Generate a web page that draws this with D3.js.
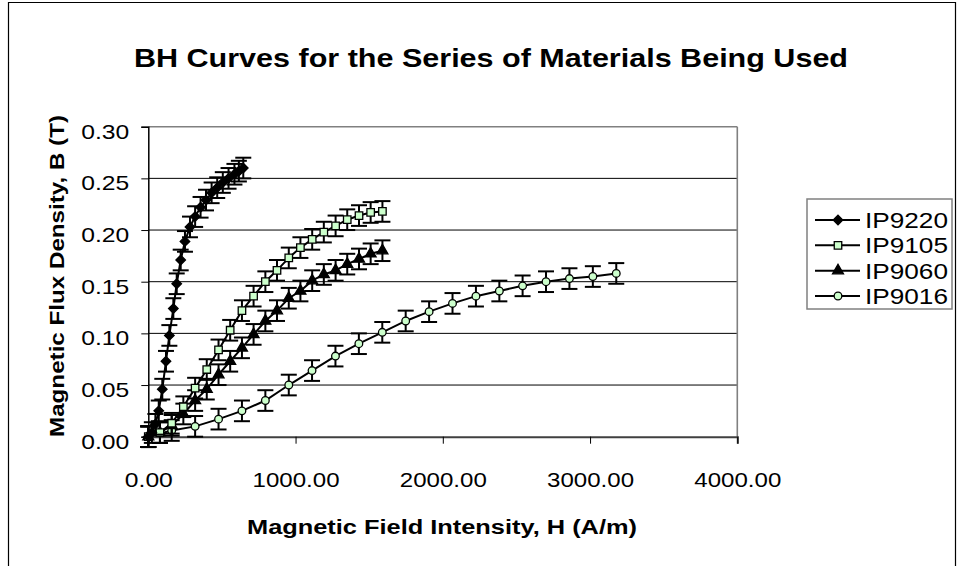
<!DOCTYPE html>
<html>
<head>
<meta charset="utf-8">
<script src="https://cdn.jsdelivr.net/npm/d3@7"></script>
<style>
  body { margin: 0; background: #fff; }
  svg { display: block; }
  text { font-family: "Liberation Sans", Arial, sans-serif; fill: #000; }
</style>
</head>
<body>
<svg id="chart" width="957" height="566"></svg>
<script>
// ---- data: applied field H (A/m) and flux density B (T) per material ----
const seriesNames = ["IP9220", "IP9105", "IP9060", "IP9016"];

const hIP9220 = [0, 24, 48, 71, 95, 120, 143, 170, 193, 220, 249, 283, 318, 355, 392, 430, 468, 506, 545, 585, 615, 645];
const bIP9220 = [0, 0.004, 0.012, 0.025, 0.046, 0.073, 0.098, 0.124, 0.148, 0.171, 0.189, 0.203, 0.213, 0.222, 0.229, 0.236, 0.241, 0.246, 0.250, 0.254, 0.257, 0.260];

const hIP9105 = [0, 79, 159, 238, 318, 397, 477, 556, 636, 715, 795, 874, 954, 1033, 1113, 1192, 1272, 1351, 1431, 1510, 1590];
const bIP9105 = [0, 0.004, 0.013, 0.029, 0.047, 0.065, 0.084, 0.103, 0.122, 0.136, 0.150, 0.161, 0.173, 0.183, 0.191, 0.198, 0.204, 0.210, 0.214, 0.217, 0.218];

const hIP9060 = [0, 79, 159, 238, 318, 397, 477, 556, 636, 715, 795, 874, 954, 1033, 1113, 1192, 1272, 1351, 1431, 1510, 1590];
const bIP9060 = [0, 0.004, 0.011, 0.022, 0.035, 0.046, 0.060, 0.073, 0.086, 0.099, 0.112, 0.122, 0.134, 0.141, 0.151, 0.157, 0.161, 0.167, 0.172, 0.177, 0.180];

const hIP9016 = [0, 159, 318, 477, 636, 795, 954, 1112, 1271, 1430, 1589, 1748, 1907, 2066, 2225, 2384, 2542, 2701, 2860, 3019, 3178];
const bIP9016 = [0, 0.006, 0.010, 0.017, 0.025, 0.035, 0.050, 0.064, 0.078, 0.090, 0.101, 0.112, 0.121, 0.129, 0.136, 0.141, 0.146, 0.150, 0.153, 0.155, 0.158];

// measurement uncertainty on B (T), one value per material
const errB = [0.01, 0.01, 0.01, 0.01];

const xTicks = [0, 1000, 2000, 3000, 4000];
const yTicks = [0, 0.05, 0.10, 0.15, 0.20, 0.25, 0.30];

const titleText = "BH Curves for the Series of Materials Being Used";
const xTitle = "Magnetic Field Intensity, H (A/m)";
const yTitle = "Magnetic Flux Density, B (T)";

// ---- layout ----
const svg = d3.select("#chart");
const plot = { left: 148.3, right: 737.3, top: 126.7, bottom: 436.7 };

const x = d3.scaleLinear().domain([0, 4000]).range([plot.left, plot.right]);
const y = d3.scaleLinear().domain([0, 0.30]).range([plot.bottom, plot.top]);

const hData = [hIP9220, hIP9105, hIP9060, hIP9016];
const bData = [bIP9220, bIP9105, bIP9060, bIP9016];
const series = seriesNames.map((name, i) => ({
  name,
  err: errB[i],
  points: hData[i].map((h, j) => ({ h, b: bData[i][j] }))
}));

const markerFill = { IP9220: "#000", IP9105: "#ccffcc", IP9060: "#000", IP9016: "#ccffcc" };
const markerShape = {
  IP9220: d3.symbol().type(d3.symbolDiamond2).size(58),
  IP9105: d3.symbol().type(d3.symbolSquare).size(56),
  IP9060: d3.symbol().type(d3.symbolTriangle).size(52),
  IP9016: d3.symbol().type(d3.symbolCircle).size(46)
};

// outer chart frame
svg.append("path")
  .attr("d", "M8.5,566 V2.5 H955.5 V566")
  .attr("fill", "none").attr("stroke", "#000").attr("stroke-width", 1.2);

// title
svg.append("text")
  .attr("x", 491).attr("y", 67)
  .attr("text-anchor", "middle")
  .attr("font-size", 25).attr("font-weight", "bold")
  .attr("textLength", 714).attr("lengthAdjust", "spacingAndGlyphs")
  .text(titleText);

// horizontal gridlines
svg.append("g").selectAll("line")
  .data(yTicks.filter(t => t > 0))
  .join("line")
  .attr("x1", plot.left).attr("x2", plot.right)
  .attr("y1", d => y(d)).attr("y2", d => y(d))
  .attr("stroke", d => d === 0.30 ? "#808080" : "#000")
  .attr("stroke-width", d => d === 0.30 ? 1.6 : 1);

// plot area right edge
svg.append("line")
  .attr("x1", plot.right).attr("x2", plot.right)
  .attr("y1", plot.top).attr("y2", plot.bottom)
  .attr("stroke", "#808080").attr("stroke-width", 1.6);

// y axis
const yAxis = svg.append("g")
  .attr("transform", `translate(${plot.left},0)`)
  .call(d3.axisLeft(y).tickValues(yTicks).tickFormat(d3.format(".2f")).tickSize(7).tickPadding(12));
yAxis.select(".domain").attr("stroke", "#000").attr("stroke-width", 1.5);
yAxis.selectAll(".tick line").attr("stroke", "#000").attr("stroke-width", 1);
yAxis.selectAll(".tick text")
  .attr("font-size", 21).attr("font-family", null)
  .attr("dy", "0.55em")
  .attr("textLength", 48).attr("lengthAdjust", "spacingAndGlyphs");

// x axis
const xAxis = svg.append("g")
  .attr("transform", `translate(0,${plot.bottom})`)
  .call(d3.axisBottom(x).tickValues(xTicks).tickFormat(d3.format(".2f")).tickSize(7).tickPadding(28));
xAxis.select(".domain").attr("stroke", "#404040").attr("stroke-width", 2);
xAxis.selectAll(".tick line").attr("stroke", "#000").attr("stroke-width", 1);
xAxis.selectAll(".tick text")
  .attr("font-size", 21).attr("font-family", null)
  .attr("textLength", d => d === 0 ? 48 : 87)
  .attr("lengthAdjust", "spacingAndGlyphs");

// axis titles
svg.append("text")
  .attr("x", 442).attr("y", 534)
  .attr("text-anchor", "middle")
  .attr("font-size", 20).attr("font-weight", "bold")
  .attr("textLength", 390).attr("lengthAdjust", "spacingAndGlyphs")
  .text(xTitle);

svg.append("text")
  .attr("transform", "translate(64,276) rotate(-90)")
  .attr("text-anchor", "middle")
  .attr("font-size", 20).attr("font-weight", "bold")
  .attr("textLength", 322).attr("lengthAdjust", "spacingAndGlyphs")
  .text(yTitle);

// series: connecting line, error bars, markers
const line = d3.line().x(d => x(d.h)).y(d => y(d.b));
const capHalf = 8;

const gSeries = svg.append("g").selectAll("g")
  .data(series.slice().reverse())
  .join("g");

gSeries.append("path")
  .attr("d", s => line(s.points))
  .attr("fill", "none").attr("stroke", "#000").attr("stroke-width", 2);

gSeries.each(function (s) {
  const g = d3.select(this);
  const eb = g.append("g").selectAll("g").data(s.points).join("g")
    .attr("stroke", "#000").attr("stroke-width", 2);
  eb.append("line")
    .attr("x1", d => x(d.h)).attr("x2", d => x(d.h))
    .attr("y1", d => y(d.b - s.err)).attr("y2", d => y(d.b + s.err));
  eb.append("line")
    .attr("x1", d => x(d.h) - capHalf).attr("x2", d => x(d.h) + capHalf)
    .attr("y1", d => y(d.b + s.err)).attr("y2", d => y(d.b + s.err));
  eb.append("line")
    .attr("x1", d => x(d.h) - capHalf).attr("x2", d => x(d.h) + capHalf)
    .attr("y1", d => y(d.b - s.err)).attr("y2", d => y(d.b - s.err));

  g.append("g").selectAll("path").data(s.points).join("path")
    .attr("transform", d => `translate(${x(d.h)},${y(d.b)})`)
    .attr("d", markerShape[s.name]())
    .attr("fill", markerFill[s.name])
    .attr("stroke", "#000").attr("stroke-width", 1.3);
});

// legend
const legend = svg.append("g");
legend.append("rect")
  .attr("x", 807).attr("y", 199).attr("width", 145).attr("height", 110)
  .attr("fill", "#fff").attr("stroke", "#808080").attr("stroke-width", 1.5);

const rowY = d3.scalePoint().domain(seriesNames).range([220, 296]);
const item = legend.selectAll("g.item").data(seriesNames).join("g")
  .attr("class", "item")
  .attr("transform", d => `translate(0,${rowY(d)})`);
item.append("line")
  .attr("x1", 815).attr("x2", 860).attr("y1", 0).attr("y2", 0)
  .attr("stroke", "#000").attr("stroke-width", 2);
item.append("path")
  .attr("transform", "translate(838,0)")
  .attr("d", d => markerShape[d]())
  .attr("fill", d => markerFill[d])
  .attr("stroke", "#000").attr("stroke-width", 1.3);
item.append("text")
  .attr("x", 865).attr("y", 8)
  .attr("font-size", 22)
  .attr("textLength", 83).attr("lengthAdjust", "spacingAndGlyphs")
  .text(d => d);
</script>
</body>
</html>
